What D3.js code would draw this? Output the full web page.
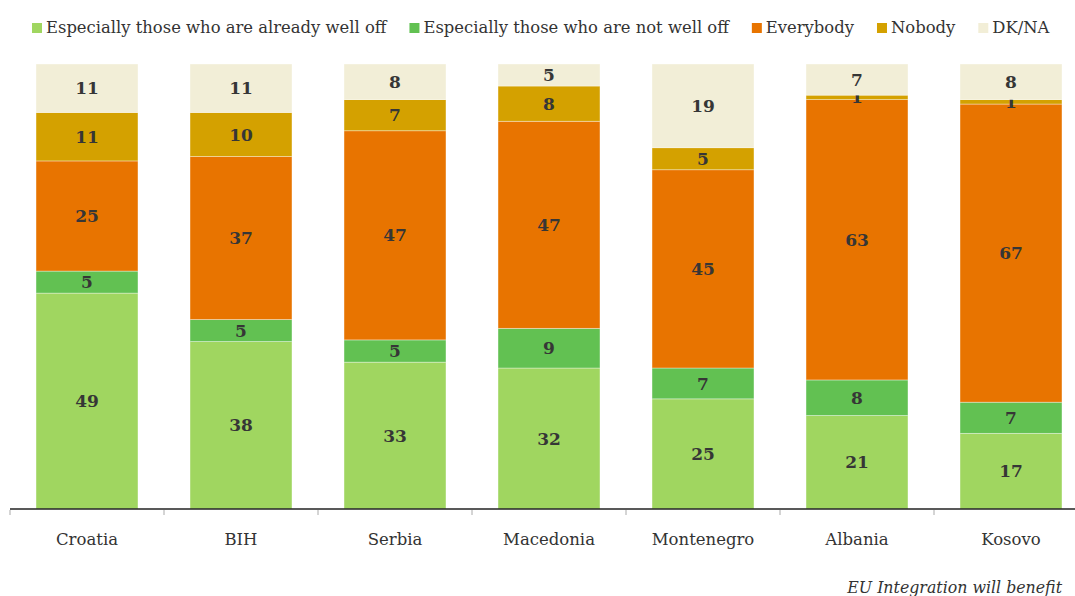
<!DOCTYPE html>
<html>
<head>
<meta charset="utf-8">
<script src="https://cdn.jsdelivr.net/npm/d3@7"></script>
<style>
  html, body { margin: 0; padding: 0; background: #fff; }
  svg { display: block; }
  text { font-family: Georgia, "DejaVu Serif", "Liberation Serif", serif; }
</style>
</head>
<body>
<svg id="chart" width="1075" height="596"></svg>
<script>
// Who benefits from EU integration, share of answers by country (%)
const countries = ["Croatia", "BIH", "Serbia", "Macedonia", "Montenegro", "Albania", "Kosovo"];
const seriesNames = [
  "Especially those who are already well off",
  "Especially those who are not well off",
  "Everybody",
  "Nobody",
  "DK/NA"
];
const alreadyWellOff = [49, 38, 33, 32, 25, 21, 17];
const notWellOff     = [5, 5, 5, 9, 7, 8, 7];
const everybody      = [25, 37, 47, 47, 45, 63, 67];
const nobody         = [11, 10, 7, 8, 5, 1, 1];
const dkna           = [11, 11, 8, 5, 19, 7, 8];
const colors = ["#a0d660", "#62c152", "#e87400", "#d4a100", "#f2eed7"];
const caption = "EU Integration will benefit";

const seriesValues = [alreadyWellOff, notWellOff, everybody, nobody, dkna];
const rows = countries.map((c, i) => {
  const r = { country: c };
  seriesNames.forEach((s, k) => { r[s] = seriesValues[k][i]; });
  return r;
});

const svg = d3.select("#chart");
const plot = { left: 10, right: 1088, top: 64, bottom: 509 };

const x = d3.scaleBand()
  .domain(countries)
  .range([plot.left, plot.right])
  .paddingInner(0.338)
  .paddingOuter(0.169);

const y = d3.scaleLinear().domain([0, 1]).range([plot.bottom, plot.top]);

const stacked = d3.stack()
  .keys(seriesNames)
  .offset(d3.stackOffsetExpand)(rows);

// stacked bars
const layers = svg.append("g").selectAll("g")
  .data(stacked)
  .join("g")
  .attr("fill", (d, i) => colors[i]);

layers.selectAll("rect")
  .data(d => d.map(p => ({ p, key: d.key })))
  .join("rect")
  .attr("x", d => x(d.p.data.country))
  .attr("width", x.bandwidth())
  .attr("y", d => y(d.p[1]))
  .attr("height", d => y(d.p[0]) - y(d.p[1]))
  .attr("stroke", "rgba(255,255,255,0.45)")
  .attr("stroke-width", 0.8);

// value labels centred in each segment
layers.selectAll("text")
  .data(d => d.map(p => ({ p, key: d.key })))
  .join("text")
  .attr("x", d => x(d.p.data.country) + x.bandwidth() / 2)
  .attr("y", d => (y(d.p[0]) + y(d.p[1])) / 2)
  .attr("dy", "0.36em")
  .attr("text-anchor", "middle")
  .attr("font-size", 17)
  .attr("font-weight", "bold")
  .attr("fill", "#363636")
  .text(d => d.p.data[d.key]);

// x axis
const axis = svg.append("g")
  .attr("transform", `translate(0,${plot.bottom})`)
  .call(d3.axisBottom(x).tickSize(0).tickPadding(0).tickFormat(""));
axis.select(".domain").attr("stroke", "#222").attr("stroke-width", 1.3)
  .attr("d", `M${plot.left},0H${plot.right}`);

// boundary ticks between categories
const step = x.step();
const bounds = d3.range(countries.length + 1).map(i => plot.left + i * step);
axis.selectAll("line.bound")
  .data(bounds)
  .join("line")
  .attr("class", "bound")
  .attr("x1", d => d).attr("x2", d => d)
  .attr("y1", 1).attr("y2", 6)
  .attr("stroke", "#aaa")
  .attr("stroke-width", 1);

svg.append("g").selectAll("text")
  .data(countries)
  .join("text")
  .attr("x", d => x(d) + x.bandwidth() / 2)
  .attr("y", 545)
  .attr("text-anchor", "middle")
  .attr("font-size", 16.5)
  .attr("fill", "#333")
  .text(d => d);

// legend laid out from measured text widths
const legend = svg.append("g");
let lx = 32;
seriesNames.forEach((name, i) => {
  const g = legend.append("g");
  g.append("rect")
    .attr("x", lx).attr("y", 23)
    .attr("width", 10).attr("height", 10)
    .attr("fill", colors[i]);
  const t = g.append("text")
    .attr("x", lx + 14).attr("y", 33)
    .attr("font-size", 16.4)
    .attr("fill", "#333")
    .text(name);
  lx += 14 + t.node().getComputedTextLength() + 23;
});

// caption
svg.append("text")
  .attr("x", 1062).attr("y", 593)
  .attr("text-anchor", "end")
  .attr("font-size", 15.8)
  .attr("font-style", "italic")
  .attr("fill", "#333")
  .text(caption);
</script>
</body>
</html>
